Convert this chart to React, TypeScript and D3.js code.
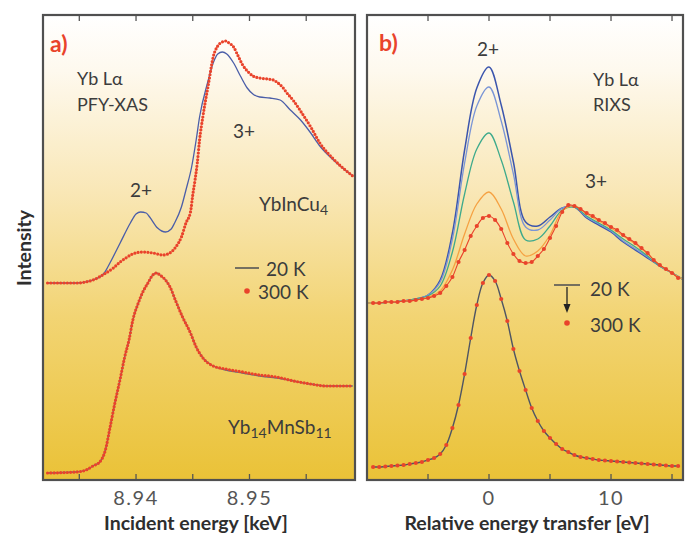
import React from 'react';
import * as d3 from 'd3';

const W = 691;
const H = 537;

// ---------- Panel a: PFY-XAS (energies in eV) ----------
const aTicks = [8935, 8940, 8945, 8950, 8955];
const aLabelTicks = [8940, 8950];
const aLabelText = ['8.94', '8.95'];

const aTop20E = [8932.2, 8934.7, 8936.2, 8937.2, 8937.7, 8938.6, 8939.5, 8940.0, 8940.4, 8940.9, 8941.2, 8941.9, 8942.6, 8943.1, 8943.4, 8944.0, 8944.4, 8944.9, 8945.3, 8945.6, 8946.3, 8946.8, 8947.2, 8947.6, 8948.0, 8948.6, 8949.2, 8949.8, 8950.3, 8950.9, 8951.8, 8952.7, 8953.6, 8954.5, 8955.4, 8956.2, 8957.4, 8959.1];
const aTop20I = [197, 197, 200, 207, 217, 237, 257, 266, 268, 267, 263, 252, 248, 251, 257, 273, 290, 313, 340, 363, 397, 417, 426, 428, 426, 417, 404, 392, 386, 383, 382, 380, 370, 360, 347, 334, 320, 304];

const aTop300E = [8932.2, 8934.7, 8936.2, 8937.2, 8938.0, 8938.6, 8939.1, 8939.7, 8940.6, 8941.5, 8942.4, 8943.1, 8943.5, 8944.0, 8944.4, 8944.8, 8945.0, 8945.2, 8945.4, 8945.6, 8945.9, 8946.4, 8946.8, 8947.2, 8947.6, 8947.9, 8948.2, 8948.6, 8949.0, 8949.4, 8949.9, 8950.3, 8950.9, 8951.6, 8952.1, 8952.4, 8952.9, 8953.3, 8953.9, 8954.5, 8955.4, 8956.2, 8957.4, 8959.1];
const aTop300I = [197, 197, 200, 206, 212, 218, 222, 226, 228, 227, 225, 228, 233, 243, 257, 268, 285, 300, 317, 340, 364, 397, 423, 434, 438, 439, 437, 433, 424, 415, 408, 404, 402, 401, 400, 398, 393, 387, 379, 369, 353, 337, 321, 304];

const aBotE = [8932.2, 8934.7, 8935.6, 8936.2, 8936.8, 8937.3, 8937.7, 8938.1, 8938.6, 8939.0, 8939.4, 8939.7, 8940.2, 8940.6, 8941.1, 8941.4, 8941.8, 8942.1, 8942.6, 8943.0, 8943.5, 8944.1, 8944.8, 8945.3, 8945.9, 8946.8, 8947.9, 8949.4, 8950.9, 8952.4, 8953.9, 8955.4, 8956.8, 8959.1];
const aBot20I = [7, 8, 10, 14, 18, 30, 52, 75, 101, 123, 141, 159, 177, 188, 198, 204, 207, 205, 200, 193, 179, 163, 147, 133, 122, 114, 110, 107, 104, 102, 99, 96, 94, 94];
const aBot300I = [7, 8, 10, 14, 18, 30, 52, 75, 101, 123, 141, 159, 177, 188, 198, 204, 207, 205, 200, 193, 179, 163, 147, 133, 122, 114, 111, 108, 105, 103, 99, 96, 94, 94];

// ---------- Panel b: RIXS (relative energy transfer, eV) ----------
const bTicks = [-5, 0, 5, 10, 15];
const bLabelTicks = [0, 10];
const bLabelText = ['0', '10'];

const bLineE = [-10, -9, -8, -7, -6, -5, -4, -3, -2, -1, 0, 1, 2, 3, 4, 5, 6, 7, 8, 9, 10, 11, 12, 13, 14, 15, 16];
const b20K = [177, 177, 178, 179, 181, 185, 200, 247, 330, 392, 413, 375, 318, 258, 254, 263, 272, 273, 262, 255, 248, 238, 230, 222, 214, 207, 200];
const bT2 = [177, 177, 178, 179, 181, 185, 198, 241, 317, 374, 393, 359, 306, 253, 250, 260, 272, 273, 263, 256, 249, 239, 231, 223, 214, 207, 200];
const bT3 = [177, 177, 178, 179, 181, 184, 194, 228, 286, 331, 347, 320, 278, 240, 241, 254, 270, 273, 264, 257, 250, 241, 233, 224, 214, 207, 200];
const bT4 = [177, 177, 178, 179, 180, 183, 189, 210, 246, 276, 288, 271, 241, 224, 229, 245, 269, 274, 266, 259, 252, 244, 236, 226, 215, 207, 200];

const bDotE = [-9.5, -9, -8.5, -8, -7.5, -7, -6.5, -6, -5.5, -5, -4.5, -4, -3.5, -3, -2.5, -2, -1.5, -1, -0.5, 0, 0.5, 1, 1.5, 2, 2.5, 3, 3.5, 4, 4.5, 5, 5.5, 6, 6.5, 7, 7.5, 8, 8.5, 9, 9.5, 10, 10.5, 11, 11.5, 12, 12.5, 13, 13.5, 14, 14.5, 15, 15.5];
const b300K = [177, 177, 178, 178, 178, 179, 179, 180, 181, 182, 184, 187, 194, 203, 218, 230, 244, 254, 262, 264, 260, 251, 237, 226, 219, 217, 218, 224, 231, 242, 254, 268, 275, 274, 271, 267, 264, 260, 257, 253, 250, 245, 241, 237, 232, 227, 220, 215, 211, 207, 202];
const bBottom = [13, 13, 13.5, 14, 14.5, 15, 16, 17, 18, 20, 22, 26, 35, 52, 75, 106, 142, 175, 197, 205, 199, 181, 159, 131, 109, 90, 72, 59, 49, 42, 36, 31, 28, 25, 23, 22, 21, 20, 19.5, 19, 18.5, 18, 17.5, 17, 16.5, 16, 15.5, 15, 14.5, 14, 14];

const FONT = "Lato, 'DejaVu Sans', sans-serif";
const TXT = '#3c3c3c';
const RED = '#e9432b';

const PA = { x0: 43, x1: 355, y0: 15, y1: 480 };
const PB = { x0: 367, x1: 683, y0: 15, y1: 480 };

const yScale = d3.scaleLinear().domain([0, 465]).range([PA.y1, PA.y0]);
const xa = d3.scaleLinear().domain([8931.8, 8959.3]).range([PA.x0, PA.x1]);
const xb = d3.scaleLinear().domain([-10, 15.9]).range([PB.x0, PB.x1]);

function mkPath(xs: number[], ys: number[], x: d3.ScaleLinear<number, number>, curve: d3.CurveFactory) {
  return d3
    .line<number>()
    .x((_, i) => x(xs[i]))
    .y((d) => yScale(d))
    .curve(curve)(ys) || '';
}

const curveA = d3.curveMonotoneX;
const curveB = d3.curveCatmullRom.alpha(0.5);

function Frame({ p, ticks, x }: { p: typeof PA; ticks: number[]; x: d3.ScaleLinear<number, number> }) {
  return (
    <g>
      {ticks.map((t) => (
        <g key={t}>
          <line x1={x(t)} x2={x(t)} y1={p.y0} y2={p.y0 + 6} stroke="#555" strokeWidth={1.3} />
          <line x1={x(t)} x2={x(t)} y1={p.y1} y2={p.y1 - 6} stroke="#555" strokeWidth={1.3} />
        </g>
      ))}
      <rect x={p.x0} y={p.y0} width={p.x1 - p.x0} height={p.y1 - p.y0} fill="none" stroke="#505050" strokeWidth={2.2} />
    </g>
  );
}

export default function App() {
  const dotted = { fill: 'none', stroke: RED, strokeWidth: 3.2, strokeLinecap: 'round' as const, strokeDasharray: '0 3.3' };
  return (
    <div style={{ position: 'absolute', left: 0, top: 0 }}>
      <svg width={W} height={H} viewBox={`0 0 ${W} ${H}`} style={{ display: 'block', background: '#fff' }}>
        <defs>
          <linearGradient id="bg" x1="0" y1="0" x2="0" y2="1">
            <stop offset="0%" stopColor="#ffffff" />
            <stop offset="12%" stopColor="#fef9ee" />
            <stop offset="38%" stopColor="#f9e7b6" />
            <stop offset="65%" stopColor="#f2d473" />
            <stop offset="100%" stopColor="#eac237" />
          </linearGradient>
          <clipPath id="ca">
            <rect x={PA.x0} y={PA.y0} width={PA.x1 - PA.x0} height={PA.y1 - PA.y0} />
          </clipPath>
          <clipPath id="cb">
            <rect x={PB.x0} y={PB.y0} width={PB.x1 - PB.x0} height={PB.y1 - PB.y0} />
          </clipPath>
        </defs>

        <rect x={PA.x0} y={PA.y0} width={PA.x1 - PA.x0} height={PA.y1 - PA.y0} fill="url(#bg)" />
        <rect x={PB.x0} y={PB.y0} width={PB.x1 - PB.x0} height={PB.y1 - PB.y0} fill="url(#bg)" />

        {/* Panel a curves */}
        <g clipPath="url(#ca)">
          <path d={mkPath(aBotE, aBot20I, xa, curveA)} fill="none" stroke="#5b6a8a" strokeWidth={1.3} />
          <path d={mkPath(aBotE, aBot300I, xa, curveA)} {...dotted} />
          <path d={mkPath(aTop20E, aTop20I, xa, curveA)} fill="none" stroke="#4b5ea8" strokeWidth={1.3} />
          <path d={mkPath(aTop300E, aTop300I, xa, curveA)} {...dotted} />
        </g>

        {/* Panel b curves */}
        <g clipPath="url(#cb)">
          <path d={mkPath(bDotE, bBottom, xb, curveB)} fill="none" stroke="#4f5563" strokeWidth={1.4} />
          {bDotE.map((e, i) => (
            <circle key={'bb' + i} cx={xb(e)} cy={yScale(bBottom[i])} r={2.1} fill={RED} />
          ))}
          <path d={mkPath(bLineE, b20K, xb, curveB)} fill="none" stroke="#3b55ad" strokeWidth={1.5} />
          <path d={mkPath(bLineE, bT2, xb, curveB)} fill="none" stroke="#7a95d6" strokeWidth={1.3} />
          <path d={mkPath(bLineE, bT3, xb, curveB)} fill="none" stroke="#3eaa8c" strokeWidth={1.3} />
          <path d={mkPath(bLineE, bT4, xb, curveB)} fill="none" stroke="#f5a142" strokeWidth={1.3} />
          <path d={mkPath(bDotE, b300K, xb, curveB)} fill="none" stroke={RED} strokeWidth={1.1} />
          {bDotE.map((e, i) => (
            <circle key={'bt' + i} cx={xb(e)} cy={yScale(b300K[i])} r={2.1} fill={RED} />
          ))}
        </g>

        <Frame p={PA} ticks={aTicks} x={xa} />
        <Frame p={PB} ticks={bTicks} x={xb} />

        {/* Panel a texts */}
        <g fontFamily={FONT} fill={TXT}>
          <text x={50} y={52} fontSize={23} fontWeight="bold" fill={RED}>a)</text>
          <text x={77} y={85} fontSize={18}>Yb Lα</text>
          <text x={77} y={111} fontSize={18}>PFY-XAS</text>
          <text x={141} y={197} fontSize={19} textAnchor="middle">2+</text>
          <text x={244} y={138} fontSize={19} textAnchor="middle">3+</text>
          <text x={259} y={211} fontSize={19}>
            YbInCu<tspan fontSize={14} dy={4}>4</tspan>
          </text>
          <line x1={235} x2={259} y1={268} y2={268} stroke="#555" strokeWidth={1.6} />
          <text x={266} y={276} fontSize={19}>20 K</text>
          <circle cx={247} cy={291} r={2.8} fill={RED} />
          <text x={258} y={299} fontSize={19}>300 K</text>
          <text x={228} y={434} fontSize={19}>
            Yb<tspan fontSize={14} dy={4}>14</tspan>
            <tspan dy={-4}>MnSb</tspan>
            <tspan fontSize={14} dy={4}>11</tspan>
          </text>
        </g>

        {/* Panel b texts */}
        <g fontFamily={FONT} fill={TXT}>
          <text x={379} y={51} fontSize={23} fontWeight="bold" fill={RED}>b)</text>
          <text x={488} y={56} fontSize={19} textAnchor="middle">2+</text>
          <text x={593} y={86} fontSize={18}>Yb Lα</text>
          <text x={593} y={111} fontSize={18}>RIXS</text>
          <text x={596} y={188} fontSize={19} textAnchor="middle">3+</text>
          <line x1={554} x2={580} y1={285} y2={285} stroke="#555" strokeWidth={1.6} />
          <line x1={567} x2={567} y1={287} y2={306} stroke="#222" strokeWidth={1.3} />
          <path d="M563.5,304 L570.5,304 L567,313 Z" fill="#222" />
          <text x={590} y={296} fontSize={19}>20 K</text>
          <circle cx={567} cy={323} r={2.8} fill={RED} />
          <text x={590} y={332} fontSize={19}>300 K</text>
        </g>

        {/* Tick labels */}
        <g fontFamily={FONT} fill="#555" fontSize={20} textAnchor="middle">
          {aLabelTicks.map((t, i) => (
            <text key={t} x={xa(t)} y={505} letterSpacing={1.5}>{aLabelText[i]}</text>
          ))}
          {bLabelTicks.map((t, i) => (
            <text key={t} x={xb(t)} y={505} letterSpacing={1.5}>{bLabelText[i]}</text>
          ))}
        </g>

        {/* Axis titles */}
        <g fontFamily={FONT} fill="#2e2e2e" fontWeight="bold" fontSize={19.5}>
          <text x={196} y={530} textAnchor="middle">Incident energy [keV]</text>
          <text x={527} y={530} textAnchor="middle">Relative energy transfer [eV]</text>
          <text transform="translate(31,248) rotate(-90)" textAnchor="middle">Intensity</text>
        </g>
      </svg>
    </div>
  );
}
